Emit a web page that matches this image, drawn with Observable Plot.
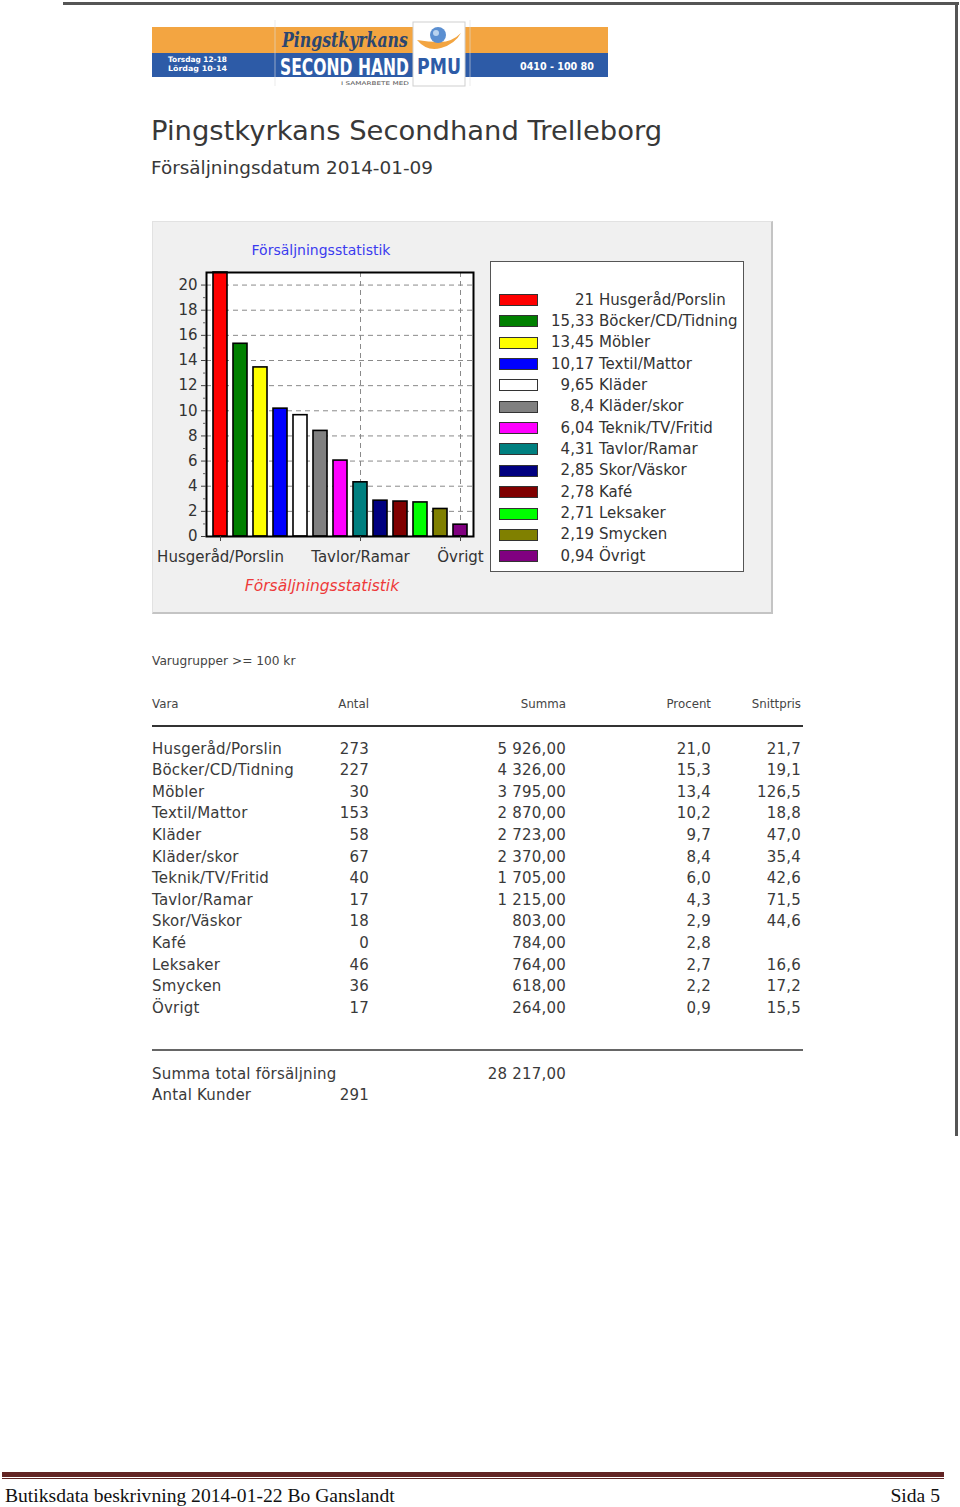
<!DOCTYPE html>
<html><head><meta charset="utf-8">
<script src="https://cdn.jsdelivr.net/npm/d3@7"></script>
<script src="https://cdn.jsdelivr.net/npm/@observablehq/plot@0.6"></script>
<style>
html,body{margin:0;padding:0}
body{width:960px;height:1507px;position:relative;background:#fff;font-family:"DejaVu Sans",sans-serif;overflow:hidden;color:#333}
.a{position:absolute;white-space:nowrap}
</style></head><body>
<script>
// ---- data ----
const categories = ["Husgeråd/Porslin","Böcker/CD/Tidning","Möbler","Textil/Mattor","Kläder","Kläder/skor","Teknik/TV/Fritid","Tavlor/Ramar","Skor/Väskor","Kafé","Leksaker","Smycken","Övrigt"];
const shares = [21,15.33,13.45,10.17,9.65,8.4,6.04,4.31,2.85,2.78,2.71,2.19,0.94];
const barColors = ["#ff0000","#008000","#ffff00","#0000ff","#ffffff","#808080","#ff00ff","#008080","#000080","#800000","#00ff00","#808000","#800080"];
const xTickLabels = ["Husgeråd/Porslin","Tavlor/Ramar","Övrigt"];
const yTicks = [0,2,4,6,8,10,12,14,16,18,20];
const antal = ["273","227","30","153","58","67","40","17","18","0","46","36","17"];
const summa = ["5 926,00","4 326,00","3 795,00","2 870,00","2 723,00","2 370,00","1 705,00","1 215,00","803,00","784,00","764,00","618,00","264,00"];
const procent = ["21,0","15,3","13,4","10,2","9,7","8,4","6,0","4,3","2,9","2,8","2,7","2,2","0,9"];
const snittpris = ["21,7","19,1","126,5","18,8","47,0","35,4","42,6","71,5","44,6","","16,6","17,2","15,5"];
const tableHeaders = ["Vara","Antal","Summa","Procent","Snittpris"];
const totalSumma = "28 217,00";
const antalKunder = "291";

// ---- helpers ----
const body = document.body;
function el(tag, css, html){const e=document.createElement(tag);e.className="a";Object.assign(e.style,css);if(html!=null)e.innerHTML=html;body.appendChild(e);return e;}
function txt(s, x, cy, o={}){
  const fs=o.size||15, lh=Math.round(fs*1.4);
  const css={top:(cy-lh/2)+"px",height:lh+"px",lineHeight:lh+"px",fontSize:fs+"px",color:o.color||"#333",fontFamily:o.font||"\"DejaVu Sans\",sans-serif"};
  if(o.weight)css.fontWeight=o.weight; if(o.style)css.fontStyle=o.style; if(o.ls)css.letterSpacing=o.ls;
  if(o.anchor==="end"){css.right=(960-x)+"px";css.textAlign="right";}
  else if(o.anchor==="middle"){css.left=(x-300)+"px";css.width="600px";css.textAlign="center";}
  else css.left=x+"px";
  const e=el("div",css); e.textContent=s; return e;
}
function fmt(v){return String(v).replace(".",",");}

// ---- page border ----
el("div",{left:"63px",top:"2px",width:"896px",height:"3px",background:"#555"});
el("div",{left:"955px",top:"2px",width:"3px",height:"1134px",background:"#555"});

// ---- logo banner ----
const ns="http://www.w3.org/2000/svg";
const logo=document.createElementNS(ns,"svg");
logo.setAttribute("width","960");logo.setAttribute("height","100");
logo.style.position="absolute";logo.style.left="0";logo.style.top="0";
logo.innerHTML=`
<rect x="152" y="27" width="456" height="26" fill="#f3a541"/>
<rect x="152" y="53" width="456" height="24" fill="#2d5ba7"/>
<line x1="275" y1="20" x2="275" y2="86" stroke="#ddd" stroke-width="0.6"/>
<line x1="470" y1="20" x2="470" y2="86" stroke="#ddd" stroke-width="0.6"/>
<rect x="413" y="22" width="52" height="64" fill="#fff" stroke="#cfcfcf" stroke-width="1"/>
<path d="M417 40 Q427 52 441 48 Q455 44 461 33 Q452 42 440 42 Q428 42 417 40Z" fill="#f3a541"/>
<circle cx="438" cy="35" r="8" fill="#5b8fd1"/>
<circle cx="436" cy="33" r="3" fill="#b9d3f0"/>`;
body.appendChild(logo);
function logoText(s,x,y,w,attrs){
  const t=document.createElementNS(ns,"text");
  t.textContent=s;
  for(const k in attrs)t.setAttribute(k,attrs[k]);
  t.setAttribute("x",0);t.setAttribute("y",0);
  logo.appendChild(t);
  const len=t.getComputedTextLength()||w;
  t.setAttribute("transform",`translate(${x},${y}) scale(${w/len},1)`);
}
logoText("Torsdag 12-18",168,62,59,{"font-family":"DejaVu Sans","font-weight":"bold","font-size":"7.5",fill:"#fff"});
logoText("Lördag   10-14",168,71,59,{"font-family":"DejaVu Sans","font-weight":"bold","font-size":"7.5",fill:"#fff","xml:space":"preserve"});
logoText("Pingstkyrkans",282,47,126,{"font-family":"DejaVu Serif","font-style":"italic","font-weight":"bold","font-size":"20",fill:"#2b4670"});
logoText("SECOND HAND",280,75,129,{"font-family":"DejaVu Sans Condensed, DejaVu Sans","font-weight":"bold","font-size":"23",fill:"#fff"});
logoText("PMU",417,74,44,{"font-family":"DejaVu Sans","font-weight":"bold","font-size":"21",fill:"#2d5ba7"});
logoText("0410 - 100 80",520,70,74,{"font-family":"DejaVu Sans","font-weight":"bold","font-size":"10",fill:"#fff"});
logoText("I SAMARBETE MED",341,85,68,{"font-family":"DejaVu Sans","font-size":"5",fill:"#555"});

// ---- titles ----
txt("Pingstkyrkans Secondhand Trelleborg",151,131,{size:27.4,color:"#383838"});
txt("Försäljningsdatum 2014-01-09",151,168,{size:18.4,color:"#383838"});

// ---- chart panel ----
el("div",{left:"152px",top:"221px",width:"618px",height:"390px",background:"#f0f0f0",borderTop:"1px solid #e2e2e2",borderLeft:"1px solid #e2e2e2",borderRight:"2px solid #c4c4c4",borderBottom:"2px solid #c4c4c4"});
txt("Försäljningsstatistik",321,250,{size:14,color:"#3b3bef",anchor:"middle"});
txt("Försäljningsstatistik",322,586,{size:15.5,color:"#ee3a3a",style:"italic",anchor:"middle"});

const data = categories.map((c,i)=>({cat:c, v:shares[i], col:barColors[i]}));
const chart = Plot.plot({
  width:340, height:350,
  marginLeft:54, marginRight:19, marginTop:51, marginBottom:35,
  style:{background:"transparent", fontFamily:"DejaVu Sans, sans-serif", fontSize:"15px", color:"#333", overflow:"visible"},
  x:{domain:categories, paddingInner:0.3, paddingOuter:0.2, axis:null},
  y:{domain:[0,21], axis:null},
  color:{type:"identity"},
  marks:[
    Plot.frame({fill:"#fff"}),
    Plot.gridY({ticks:yTicks.filter(d=>d>0), stroke:"#8a8a8a", strokeOpacity:1, strokeDasharray:"5,4"}),
    Plot.gridX({ticks:xTickLabels, stroke:"#8a8a8a", strokeOpacity:1, strokeDasharray:"5,4"}),
    Plot.barY(data,{x:"cat", y:"v", fill:"col", stroke:"#000", strokeWidth:1.6}),
    Plot.frame({stroke:"#000", strokeWidth:2}),
    Plot.axisY({ticks:yTicks, tickSize:5, tickPadding:4, stroke:"#444", label:null}),
    Plot.axisY({ticks:d3.range(1,21,2), tickSize:3, text:null, stroke:"#666", label:null}),
    Plot.axisX({ticks:xTickLabels, tickSize:5, tickPadding:10, stroke:"#444", label:null})
  ]
});
chart.style.position="absolute"; chart.style.left="152px"; chart.style.top="221px";
body.appendChild(chart);

// ---- legend ----
el("div",{left:"490px",top:"261px",width:"252px",height:"309px",background:"#fff",border:"1.5px solid #555"});
categories.forEach((c,i)=>{
  const cy=300+i*21.35;
  el("div",{left:"499px",top:(cy-6)+"px",width:"37px",height:"10px",background:barColors[i],border:"1.5px solid #333"});
  txt(fmt(shares[i]),594,cy,{size:15,anchor:"end",color:"#333"});
  txt(c,599,cy,{size:15,color:"#333"});
});

// ---- table ----
txt("Varugrupper >= 100 kr",152,661,{size:12.2,color:"#444"});
const colRight=[null,369,566,711,801];
tableHeaders.forEach((h,j)=>{
  if(j===0) txt(h,152,704,{size:11.8,color:"#444"});
  else txt(h,colRight[j],704,{size:11.8,color:"#444",anchor:"end"});
});
el("div",{left:"152px",top:"725px",width:"651px",height:"2px",background:"#333"});
const rowOpt={size:15,color:"#3a3a3a",ls:"0.2px"};
categories.forEach((c,i)=>{
  const cy=749+i*21.6;
  txt(c,152,cy,rowOpt);
  txt(antal[i],369,cy,{...rowOpt,anchor:"end"});
  txt(summa[i],566,cy,{...rowOpt,anchor:"end"});
  txt(procent[i],711,cy,{...rowOpt,anchor:"end"});
  if(snittpris[i]) txt(snittpris[i],801,cy,{...rowOpt,anchor:"end"});
});
el("div",{left:"152px",top:"1049px",width:"651px",height:"2px",background:"#666"});
txt("Summa total försäljning",152,1074,rowOpt);
txt(totalSumma,566,1074,{...rowOpt,anchor:"end"});
txt("Antal Kunder",152,1095,rowOpt);
txt(antalKunder,369,1095,{...rowOpt,anchor:"end"});

// ---- footer ----
el("div",{left:"2px",top:"1472px",width:"942px",height:"5px",background:"#622423"});
el("div",{left:"2px",top:"1478px",width:"942px",height:"1px",background:"#622423"});
txt("Butiksdata beskrivning 2014-01-22 Bo Ganslandt",5,1495,{size:19.6,color:"#111",font:"\"Liberation Serif\",serif"});
txt("Sida 5",940,1495,{size:19.6,color:"#111",font:"\"Liberation Serif\",serif",anchor:"end"});
</script>
</body></html>
